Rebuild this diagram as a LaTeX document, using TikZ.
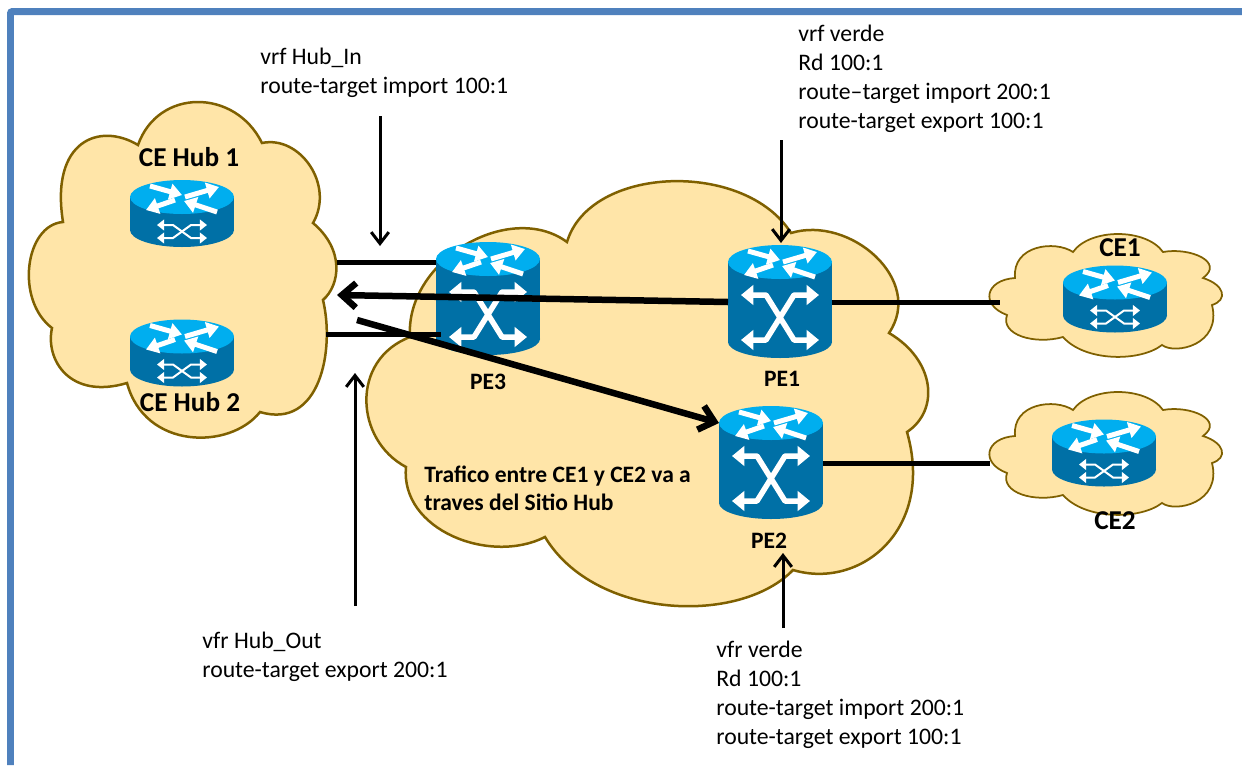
\documentclass[tikz,border=0pt]{standalone}
\usepackage{fontspec}
\setmainfont{Carlito}
\usetikzlibrary{arrows.meta}
\definecolor{framecol}{HTML}{4F81BD}
\definecolor{cloudfill}{HTML}{FFE5A8}
\definecolor{cloudline}{HTML}{7F6000}
\definecolor{routertop}{HTML}{00AEEF}
\definecolor{routerbody}{HTML}{0070A6}
\tikzset{
  cloudshape/.style={fill=cloudfill,draw=cloudline,line width=0.05cm},
  infotext/.style={anchor=north west,inner sep=0pt,align=left,font=\fontsize{13.5}{16.4}\selectfont},
  boldtext/.style={inner sep=0pt,font=\fontsize{13.4}{16}\selectfont\bfseries},
  hubtext/.style={inner sep=0pt,font=\fontsize{15.5}{16}\selectfont\bfseries},
  thinarrow/.style={line width=0.06cm,-{Straight Barb[length=6.5pt,width=10pt]}},
  heavyarrow/.style={line width=0.13cm,-{Straight Barb[length=8pt,width=14pt]}},
  linkline/.style={line width=0.1cm},
  bigbox/.style={inner sep=0pt,outer sep=0pt,minimum width=2.08cm,minimum height=2.24cm},
  smallbox/.style={inner sep=0pt,outer sep=0pt,minimum width=2.08cm,minimum height=1.34cm},
  topwhite/.style={white,line width=0.1cm,-{Triangle[length=7pt,width=9pt]}},
  crosswhite/.style={white,line width=0.11cm,line join=bevel,{Triangle[length=7pt,width=11pt]}-{Triangle[length=7pt,width=11pt]}},
  smallcross/.style={white,line width=0.04cm,{Triangle[length=4pt,width=6pt]}-{Triangle[length=4pt,width=6pt]}},
  bigrouter/.pic={
    \fill [routerbody] (0,40) ellipse [x radius=52,y radius=16];
    \fill [routerbody] (-52,-40) rectangle (52,40);
    \routertop{-40}
    \draw [crosswhite] (-39,-7) -- (-14,-7) -- (14,38) -- (39,38);
    \draw [crosswhite] (39,-7) -- (14,-7) -- (-14,38) -- (-39,38);
  },
  smallrouter/.pic={
    \fill [routerbody] (0,16.5) ellipse [x radius=52,y radius=17];
    \fill [routerbody] (-52,-16.5) rectangle (52,16.5);
    \routertop{-16.5}
    \draw [smallcross] (-25,11.5) -- (-9,11.5) -- (9,24.5) -- (25,24.5);
    \draw [smallcross] (25,11.5) -- (9,11.5) -- (-9,24.5) -- (-25,24.5);
  },
  edgecloud/.pic={
    \draw [cloudshape,line width=0.035cm] (1073,252) .. controls (1090,228) and (1146,228) .. (1163,252)
      .. controls (1190,247) and (1225,262) .. (1203,278)
      .. controls (1225,285) and (1228,300) .. (1212,305)
      .. controls (1222,345) and (1175,355) .. (1162,345)
      .. controls (1140,362) and (1085,362) .. (1063,337)
      .. controls (1035,345) and (1000,335) .. (1007,315)
      .. controls (980,305) and (985,280) .. (1015,278)
      .. controls (1012,245) and (1055,240) .. (1073,252) -- cycle;
  }
}
% top face of a router, centred at height #1
\newcommand{\routertop}[1]{%
  \begin{scope}[shift={(0,#1)}]
    \fill [routertop] (0,0) ellipse [x radius=52,y radius=17];
    \draw [topwhite] (-32,-11) -- (0,-2);
    \draw [topwhite] (3,0) -- (37,-10);
    \draw [topwhite] (-7,3) -- (-36,13);
    \draw [topwhite] (35,15) -- (2,4);
  \end{scope}}
\begin{document}
\begin{tikzpicture}[x=0.02cm,y=-0.02cm]
  \useasboundingbox (0,0) rectangle (1242,765);

  % Outer frame
  \draw [framecol,line width=0.14cm,rounded corners=0.04cm] (10.5,765) -- (10.5,11.5) -- (1242,11.5);

  % Hub cloud
  \draw [cloudshape] (138,145) .. controls (158,88) and (235,88) .. (262,143)
    .. controls (300,135) and (335,185) .. (313,223)
    .. controls (345,250) and (340,285) .. (323,300)
    .. controls (335,350) and (320,430) .. (260,412)
    .. controls (230,450) and (145,450) .. (127,383)
    .. controls (70,400) and (45,360) .. (52,328)
    .. controls (15,300) and (25,225) .. (63,222)
    .. controls (50,140) and (100,122) .. (138,145) -- cycle;%

  % Provider cloud
  \draw [cloudshape] (567,242) .. controls (590,165) and (745,160) .. (791,233)
    .. controls (850,215) and (925,280) .. (889,333)
    .. controls (935,360) and (940,410) .. (907,432)
    .. controls (935,530) and (860,590) .. (793,570)
    .. controls (740,625) and (595,620) .. (545,537)
    .. controls (490,565) and (400,530) .. (406,467)
    .. controls (355,440) and (350,360) .. (410,337)
    .. controls (405,260) and (510,200) .. (567,242) -- cycle;%

  % Edge clouds
  \pic at (0,0) {edgecloud};%
  \pic at (0,158) {edgecloud};%

  % Routers
  \pic at (182,213.5) {smallrouter};%
  \node [smallbox] (hubone) at (182,213.5) {};%
  \pic at (182,353) {smallrouter};%
  \node [smallbox] (hubtwo) at (182,353) {};%
  \pic at (1115,299) {smallrouter};%
  \node [smallbox] (ceone) at (1115,299) {};%
  \pic at (1104,453) {smallrouter};%
  \node [smallbox] (cetwo) at (1104,453) {};%
  \pic at (488,299) {bigrouter};%
  \node [bigbox] (pethree) at (488,299) {};%
  \pic at (780,302) {bigrouter};%
  \node [bigbox] (peone) at (780,302) {};%
  \pic at (771,463) {bigrouter};%
  \node [bigbox] (petwo) at (771,463) {};%

  % Free ends of the connectors
  \coordinate (hublinka) at (337,262);%
  \coordinate (hublinkb) at (326,334);%
  \coordinate (pethreeb) at (441,334);%
  \coordinate (hubtip) at (337,295);%
  \coordinate (hubtail) at (357,320);%
  \coordinate (ceonelink) at (1000,302);%
  \coordinate (cetwolink) at (990,463);%
  \coordinate (inupper) at (380,116);%
  \coordinate (intip) at (380,246);%
  \coordinate (verdeupper) at (781,140);%
  \coordinate (verdetip) at (781,243);%
  \coordinate (outlower) at (355,606);%
  \coordinate (outtip) at (355,373);%
  \coordinate (verdelower) at (783,628);%
  \coordinate (verdelowtip) at (783,553);%

  % Links
  \draw [linkline] (hublinka) -- (hublinka -| pethree.west);%
  \draw [linkline] (hublinkb) -- (pethreeb);%
  \draw [linkline] (peone.east) -- (ceonelink);%
  \draw [linkline] (petwo.east) -- (cetwolink);%

  % Traffic through the hub
  \draw [heavyarrow] (peone.west) -- (hubtip);%
  \draw [heavyarrow] (hubtail) -- ([yshift=0.8cm]petwo.west);%

  % Pointers to the texts
  \draw [thinarrow] (inupper) -- (intip);%
  \draw [thinarrow] (verdeupper) -- (verdetip);%
  \draw [thinarrow] (outlower) -- (outtip);%
  \draw [thinarrow] (verdelower) -- (verdelowtip);%

  % Router labels
  \node [hubtext] (hubonetext) at (189,157) {CE Hub 1};%
  \node [hubtext] (hubtwotext) at (190,402) {CE Hub 2};%
  \node [hubtext] (ceonetext) at (1120,248) {CE1};%
  \node [hubtext] (cetwotext) at (1115,521) {CE2};%
  \node [boldtext] (pethreetext) at (488,382) {PE3};%
  \node [boldtext] (peonetext) at (782,379) {PE1};%
  \node [boldtext] (petwotext) at (769,541) {PE2};%

  % Texts
  \node [infotext,font=\fontsize{13.4}{15.9}\selectfont\bfseries] (traffictext) at (424,466) {Trafico entre CE1 y CE2 va a\\traves del Sitio Hub};%
  \node [infotext] (hubintext) at (260,48) {vrf Hub\_In\\route-target import 100:1};%
  \node [infotext] (verdetext) at (798,25) {vrf verde\\Rd 100:1\\route–target import 200:1\\route-target export 100:1};%
  \node [infotext] (hubouttext) at (202,632) {vfr Hub\_Out\\route-target export 200:1};%
  \node [infotext] (verdelowtext) at (716,641) {vfr verde\\Rd 100:1\\route-target import 200:1\\route-target export 100:1};%
\end{tikzpicture}
\end{document}
